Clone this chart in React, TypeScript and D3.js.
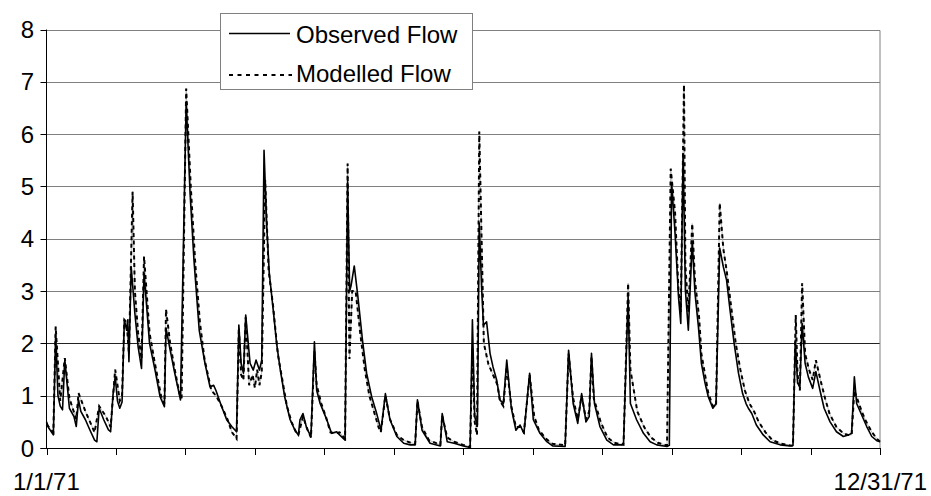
import * as d3 from "d3";

// daily flow, sampled at the turning points of each hydrograph [day of year, flow]
const observedFlow: [number, number][] = [
  [0, 0.5], [1, 0.38], [3, 0.25], [4, 2.16], [5, 1.0], [6, 0.8], [7, 0.73], [8, 1.68], [10, 0.76], [12, 0.6],
  [13, 0.41], [14, 0.92], [15, 0.7], [17, 0.54], [19, 0.34], [21, 0.15], [22, 0.12], [23, 0.76], [25, 0.54],
  [27, 0.35], [28, 0.31], [29, 1.0], [30, 1.36], [31, 0.9], [32, 0.76], [33, 0.88], [34, 2.45], [35, 2.25],
  [35.5, 2.45], [36, 1.65], [37, 3.46], [38.6, 2.57], [40, 1.94], [41.5, 1.52], [42.6, 3.34], [45, 2.0],
  [47.4, 1.49], [49.6, 0.98], [51.5, 0.79], [52.2, 2.29], [54, 1.87], [56, 1.43], [58.5, 0.92], [61, 6.62],
  [62.7, 4.87], [64.4, 3.59], [66.7, 2.25], [69.2, 1.62], [71.4, 1.17], [73, 1.2], [74, 1.1], [76.5, 0.79],
  [78.7, 0.54], [80.9, 0.41], [83, 0.31], [84, 2.35], [85, 1.62], [86, 1.43], [87, 2.54], [88.9, 1.62],
  [90.3, 1.49], [91.5, 1.68], [93, 1.49], [94, 1.68], [95, 5.69], [96.2, 4.23], [97.3, 3.34], [99, 2.64],
  [100.5, 2.0], [102, 1.52], [104, 0.98], [106.4, 0.54], [108.5, 0.34], [110, 0.25], [110.7, 0.54], [112, 0.66],
  [113.6, 0.38], [115.5, 0.22], [117, 2.03], [118, 1.1], [119.5, 0.85], [121, 0.69], [122.4, 0.54], [124.5, 0.28],
  [126.7, 0.31], [128, 0.25], [130.4, 0.15], [131.5, 5.09], [132.4, 3.0], [133, 3.1], [134.4, 3.48], [136, 2.89],
  [138, 2.06], [139.8, 1.43], [142, 0.98], [144, 0.69], [146.1, 0.34], [148, 1.04], [150, 0.54], [153, 0.22],
  [156, 0.09], [158.8, 0.06], [161, 0.06], [162, 0.92], [164, 0.34], [167.5, 0.09], [172, 0.04], [172.8, 0.66],
  [175, 0.12], [178, 0.09], [182, 0.04], [185, 0.01], [186, 2.45], [187, 0.6], [188.2, 0.44], [189, 4.3],
  [190, 3.08], [190.8, 2.35], [192.2, 2.41], [193.7, 1.81], [195, 1.55], [196.6, 1.3], [198, 0.92], [199.5, 0.85],
  [201, 1.68], [203, 0.76], [205, 0.34], [206.8, 0.44], [208.5, 0.28], [211, 1.43], [212.6, 0.54], [215.5, 0.28],
  [218.5, 0.12], [221, 0.04], [226.5, 0.03], [228, 1.87], [230, 0.85], [232, 0.47], [233.7, 1.04], [235.6, 0.5],
  [237, 0.6], [238, 1.81], [239.3, 0.85], [241.7, 0.41], [244.7, 0.15], [247.6, 0.06], [251.2, 0.06], [252, 0.1],
  [254, 2.89], [255, 0.85], [257.7, 0.54], [260.7, 0.28], [263.6, 0.12], [266.5, 0.06], [271, 0.03], [272, 0.05],
  [273, 5.06], [274.5, 4.1], [276, 2.89], [277, 2.38], [278, 5.63], [279, 3.02], [280.3, 2.25], [282, 3.94],
  [283.2, 2.96], [284.7, 2.32], [286, 1.62], [287.6, 1.24], [289, 0.98], [291, 0.76], [292.4, 0.85], [294, 3.82],
  [295.6, 3.46], [297, 3.21], [298.5, 2.64], [300.3, 2.0], [302.2, 1.43], [304, 1.04], [305.5, 0.85], [306.5, 0.76],
  [308, 0.66], [310, 0.44], [313, 0.25], [316, 0.12], [320.4, 0.06], [324.7, 0.04], [326, 0.05], [327, 2.06],
  [328, 1.24], [329, 1.17], [330, 2.38], [331.3, 1.62], [332.7, 1.36], [334.6, 1.14], [336, 1.46], [337.8, 1.1],
  [339.6, 0.76], [342.2, 0.5], [345, 0.31], [348, 0.22], [350.2, 0.25], [351.6, 0.28], [352.8, 1.36], [353.8, 0.85],
  [356, 0.63], [358.2, 0.41], [360.4, 0.22], [362.6, 0.14], [364, 0.12],
];

const modelledFlow: [number, number][] = [
  [0, 0.45], [3, 0.3], [4, 2.32], [6, 0.9], [8, 1.72], [10, 0.95], [13, 0.55], [14, 1.05], [17, 0.7], [21, 0.3],
  [23, 0.8], [26, 0.6], [28, 0.4], [30, 1.5], [32, 0.9], [33, 1.0], [34, 2.45], [35, 2.4], [36, 1.8], [37.6, 4.9],
  [38.6, 3.0], [40, 2.2], [41.5, 1.7], [42.6, 3.66], [45, 2.2], [47, 1.7], [50, 1.0], [51.5, 0.85], [52.2, 2.65],
  [54, 2.0], [56, 1.5], [58, 1.05], [59, 0.95], [61, 6.87], [63, 5.0], [65, 3.5], [67, 2.4], [69, 1.7], [72, 1.1],
  [74, 1.0], [76.5, 0.8], [79, 0.55], [81, 0.3], [83, 0.18], [84, 2.3], [85, 1.4], [86, 1.3], [87, 2.5],
  [88.5, 1.2], [90, 1.4], [91, 1.15], [92, 1.5], [93, 1.2], [94, 1.45], [95.5, 5.12], [97, 3.4], [99, 2.7],
  [101, 1.8], [103, 1.3], [105, 0.8], [107, 0.5], [109, 0.3], [110, 0.25], [112, 0.6], [114, 0.35], [115.5, 0.2],
  [117, 1.85], [118, 1.2], [120, 0.85], [122, 0.6], [124, 0.3], [126, 0.28], [128, 0.3], [130.4, 0.18],
  [131.5, 5.44], [132.3, 1.7], [133.5, 3.0], [135, 3.0], [137, 2.2], [139, 1.5], [141, 1.0], [143, 0.7], [145, 0.4],
  [146, 0.3], [148, 1.0], [150, 0.55], [153, 0.25], [156, 0.15], [159, 0.1], [161, 0.08], [162, 0.9], [164, 0.4],
  [167, 0.15], [172, 0.06], [172.8, 0.62], [175, 0.2], [178, 0.12], [182, 0.06], [185, 0.02], [186, 1.9],
  [187, 0.5], [188, 0.25], [189, 6.05], [190, 4.0], [191, 2.0], [192, 1.8], [193, 1.6], [195, 1.4], [197, 1.2],
  [198, 0.9], [199.5, 0.8], [201, 1.55], [203, 0.8], [205, 0.4], [207, 0.4], [208.5, 0.3], [211, 1.4], [213, 0.6],
  [215, 0.35], [218, 0.18], [221, 0.08], [226.5, 0.05], [228, 1.8], [230, 0.95], [232, 0.55], [233.7, 1.0],
  [235.6, 0.55], [237, 0.7], [238, 1.75], [239, 0.95], [242, 0.5], [245, 0.2], [248, 0.1], [252, 0.06],
  [254, 3.15], [255, 1.5], [258, 0.7], [261, 0.4], [264, 0.2], [267, 0.1], [271, 0.05], [272.6, 5.34],
  [274.5, 4.5], [276, 3.0], [277, 2.6], [278.4, 6.94], [279, 3.5], [280.3, 2.6], [282, 4.29], [283.2, 3.2],
  [285, 2.5], [286, 1.8], [288, 1.3], [289, 1.05], [291, 0.8], [292.4, 0.8], [294, 4.68], [295.6, 3.8], [297, 3.4],
  [299, 2.7], [301, 2.0], [303, 1.5], [305, 1.1], [307, 0.85], [309, 0.7], [311, 0.5], [314, 0.3], [317, 0.15],
  [321, 0.08], [326, 0.04], [327.2, 2.54], [328, 1.4], [329, 1.1], [330, 3.15], [331.3, 1.8], [333, 1.5],
  [334.6, 1.3], [336, 1.68], [338, 1.3], [340, 0.95], [342, 0.65], [345, 0.4], [348, 0.28], [350, 0.25],
  [351.6, 0.25], [352.8, 1.1], [354, 0.95], [356, 0.7], [358, 0.5], [360.5, 0.3], [362.6, 0.18], [364, 0.12],
];

const yTicks = [0, 1, 2, 3, 4, 5, 6, 7, 8];
const firstDateLabel = "1/1/71";
const lastDateLabel = "12/31/71";
const seriesNames = ["Observed Flow", "Modelled Flow"];

const W = 931;
const H = 496;
const FONT = "'Liberation Sans', Arial, sans-serif";

export default function App() {
  const x = d3.scaleLinear().domain([0, 364]).range([46.5, 880]);
  const y = d3.scaleLinear().domain([0, 8]).range([448, 29.5]);

  const line = d3
    .line<[number, number]>()
    .x((d) => x(d[0]))
    .y((d) => y(d[1]));

  const xTicks = d3.range(13).map((i) => (i * 364) / 12);
  const left = x(0);
  const right = x(364);
  const crisp = (v: number) => Math.round(v) + 0.5;

  return (
    <div style={{ position: "fixed", left: 0, top: 0, width: W, height: H, background: "#fff" }}>
      <svg width={W} height={H} style={{ display: "block" }} fontFamily={FONT}>
        {/* grid */}
        {yTicks.slice(1).map((t) => (
          <line
            key={t}
            x1={left}
            x2={right}
            y1={crisp(y(t))}
            y2={crisp(y(t))}
            stroke={t === 2 ? "#222" : "#808080"}
            strokeWidth={1}
          />
        ))}
        <line x1={right} x2={right} y1={crisp(y(8))} y2={y(0)} stroke="#808080" />

        {/* series */}
        <path d={line(modelledFlow) ?? ""} fill="none" stroke="#a8a8a8" strokeWidth={0.8} />
        <path d={line(observedFlow) ?? ""} fill="none" stroke="#000" strokeWidth={1.6} strokeLinejoin="round" />
        <path d={line(modelledFlow) ?? ""} fill="none" stroke="#000" strokeWidth={2} strokeDasharray="4 3.5" />

        {/* axes */}
        <line x1={left} x2={left} y1={y(8)} y2={y(0)} stroke="#000" strokeWidth={1} />
        <line x1={left - 6} x2={right} y1={crisp(y(0))} y2={crisp(y(0))} stroke="#000" />
        {yTicks.map((t) => (
          <g key={t}>
            <line x1={left - 6} x2={left} y1={crisp(y(t))} y2={crisp(y(t))} stroke="#000" />
            <text x={34} y={y(t) + 8.5} textAnchor="end" fontSize={24} fill="#000">
              {t}
            </text>
          </g>
        ))}
        {xTicks.map((d, i) => (
          <line key={i} x1={crisp(x(d))} x2={crisp(x(d))} y1={y(0)} y2={y(0) + 7} stroke="#000" />
        ))}
        <text x={13} y={490} fontSize={24} fill="#000">
          {firstDateLabel}
        </text>
        <text x={927} y={490} textAnchor="end" fontSize={24} fill="#000">
          {lastDateLabel}
        </text>

        {/* legend */}
        <rect x={220.5} y={13.5} width={252} height={76} fill="#fff" stroke="#808080" />
        <line x1={229} x2={290} y1={33.5} y2={33.5} stroke="#000" strokeWidth={1.6} />
        <line x1={229} x2={292} y1={75} y2={75} stroke="#000" strokeWidth={2} strokeDasharray="4 4.5" />
        <text x={296} y={43} fontSize={24} fill="#000">
          {seriesNames[0]}
        </text>
        <text x={296} y={82} fontSize={24} fill="#000">
          {seriesNames[1]}
        </text>
      </svg>
    </div>
  );
}
